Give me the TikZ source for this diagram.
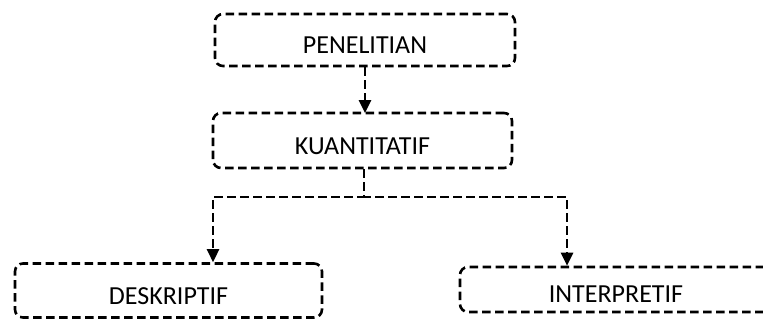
\documentclass[tikz,border=0pt]{standalone}
\usepackage{fontspec}
\setmainfont{Carlito}
\usetikzlibrary{arrows.meta}
\tikzset{
  box/.style={draw=black, line width=2.6pt, dash pattern=on 8.5pt off 4.5pt,
    rounded corners=8pt, inner sep=0pt, font=\fontsize{26}{30}\selectfont,
    text height=27pt, text depth=0pt},
  conn/.style={draw=black, line width=2.6pt, dash pattern=on 8.5pt off 4.5pt},
  tip/.style={-{Triangle[width=12pt,length=13pt]}}
}
\begin{document}
\begin{tikzpicture}[x=1pt,y=-1pt]
\useasboundingbox (0,0) rectangle (763,322);
\clip (0,0) rectangle (763,322);
\node[box, minimum width=300pt, minimum height=52pt] (pen) at (365,40) {PENELITIAN};
\node[box, minimum width=299pt, minimum height=55pt] (kua) at (362.5,140.5) {KUANTITATIF};
\node[box, minimum width=307pt, minimum height=54pt] (des) at (168.5,290.5) {DESKRIPTIF};
\node[box, minimum width=312pt, minimum height=45pt, text height=25pt] (int) at (616,289.5) {INTERPRETIF};
\coordinate (dl) at (213,197);
\coordinate (dr) at (567,197);
\draw[conn, tip] (pen.south -| 365,0) -- (365,113) coordinate (kt);
\draw[conn, tip] (kua.south -| 364,0) |- (dl) -- (dl |- des.north);
\draw[conn, tip] (kua.south -| 364,0) |- (dr) -- (dr |- int.north);
\end{tikzpicture}
\end{document}
